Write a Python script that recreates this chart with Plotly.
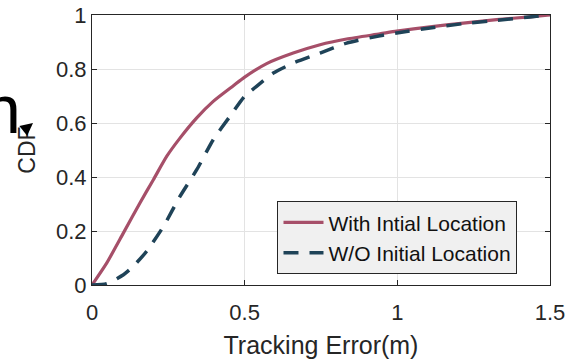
import plotly.graph_objects as go

# Tracking error (m) and CDF values
x_with = [0, 0.048, 0.103, 0.157, 0.201, 0.245, 0.288, 0.343, 0.397, 0.463, 0.5, 0.572,
          0.659, 0.747, 0.834, 0.943, 0.998, 1.107, 1.216, 1.325, 1.434, 1.5]
cdf_with = [0, 0.081, 0.193, 0.304, 0.390, 0.477, 0.544, 0.619, 0.680, 0.738, 0.770, 0.820,
            0.859, 0.890, 0.911, 0.930, 0.940, 0.956, 0.970, 0.983, 0.993, 1.0]

x_wo = [0, 0.048, 0.103, 0.135, 0.179, 0.234, 0.288, 0.343, 0.397, 0.452, 0.5, 0.539,
        0.594, 0.659, 0.747, 0.834, 0.943, 0.998, 1.107, 1.216, 1.325, 1.434, 1.5]
cdf_wo = [0, 0.005, 0.038, 0.069, 0.125, 0.217, 0.328, 0.427, 0.538, 0.625, 0.699, 0.736,
          0.785, 0.822, 0.859, 0.896, 0.923, 0.933, 0.952, 0.968, 0.980, 0.993, 1.0]

x_ticks = [0, 0.5, 1, 1.5]
x_tick_labels = ["0", "0.5", "1", "1.5"]
y_ticks = [0, 0.2, 0.4, 0.6, 0.8, 1]
y_tick_labels = ["0", "0.2", "0.4", "0.6", "0.8", "1"]

FONT = "Liberation Sans, Arial, Helvetica, sans-serif"
TXT = "#262626"

fig = go.Figure()
fig.add_trace(go.Scatter(x=x_with, y=cdf_with, mode="lines", name="With Intial Location",
                         line=dict(color="#A64F69", width=3.2, shape="spline", smoothing=0.6)))
fig.add_trace(go.Scatter(x=x_wo, y=cdf_wo, mode="lines", name="W/O Initial Location",
                         line=dict(color="#1F4358", width=3.5, dash="15px,11px",
                                   shape="spline", smoothing=0.6)))

axis_common = dict(showline=True, linecolor="#262626", linewidth=1, mirror="ticks",
                   ticks="inside", ticklen=5, tickcolor="#262626", automargin=False,
                   showgrid=True, gridcolor="#E3E3E3", gridwidth=1, zeroline=False,
                   tickfont=dict(family=FONT, size=22, color=TXT))

fig.update_layout(
    width=577, height=360,
    margin=dict(l=92, r=27, t=15, b=75),
    paper_bgcolor="white", plot_bgcolor="white",
    xaxis=dict(range=[0, 1.5], tickvals=x_ticks, ticktext=x_tick_labels,
               ticklabelstandoff=8,
               title=dict(text="Tracking Error(m)", font=dict(family=FONT, size=25, color=TXT),
                          standoff=12),
               **axis_common),
    yaxis=dict(range=[0, 1], tickvals=y_ticks, ticktext=y_tick_labels,
               title=dict(text="CDF", font=dict(family=FONT, size=23, color=TXT), standoff=13),
               **axis_common),
    legend=dict(x=0.405, y=0.31, xanchor="left", yanchor="top",
                bgcolor="#F0F0F0", bordercolor="#262626", borderwidth=1,
                font=dict(family=FONT, size=21, color="#111111"),
                tracegroupgap=0, itemwidth=40),
    showlegend=True,
)

# stray partial glyph and arrow at the left edge of the reference image
fig.add_annotation(text="n", xref="paper", yref="paper", x=-0.1965, y=0.653,
                   xanchor="center", yanchor="middle", showarrow=False,
                   font=dict(family=FONT, size=68, color="black"))
fig.add_annotation(text="", xref="paper", yref="paper", x=-0.1288, y=0.60,
                   showarrow=True, ax=-10, ay=8, arrowhead=2, arrowsize=1,
                   arrowwidth=2.5, arrowcolor="black")

fig.write_html("out.html")
